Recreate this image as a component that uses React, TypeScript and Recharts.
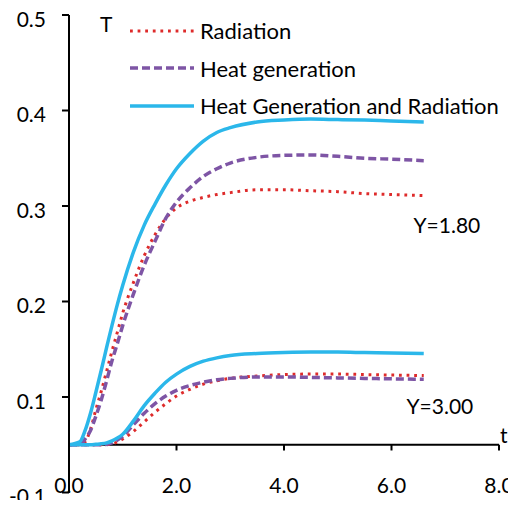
import { LineChart, Line, XAxis, YAxis, ReferenceLine, ReferenceDot, Legend } from "recharts";

// time samples (t) shared by all curves
const tValues = [0, 0.2, 0.3, 0.4, 0.5, 0.6, 0.7, 0.8, 0.9, 1.0, 1.2, 1.4, 1.6, 1.8, 2.0, 2.25, 2.5, 2.75, 3.0, 3.5, 4.0, 4.5, 5.0, 5.5, 6.0, 6.6];

// Y = 1.80
const radHigh = [0.05, 0.05, 0.053, 0.066, 0.087, 0.106, 0.127, 0.148, 0.168, 0.188, 0.22, 0.248, 0.27, 0.287, 0.298, 0.305, 0.309, 0.312, 0.314, 0.317, 0.317, 0.316, 0.315, 0.313, 0.312, 0.311];
const heatHigh = [0.05, 0.05, 0.056, 0.065, 0.08, 0.097, 0.117, 0.138, 0.156, 0.175, 0.208, 0.238, 0.263, 0.287, 0.304, 0.319, 0.331, 0.339, 0.345, 0.351, 0.353, 0.3535, 0.352, 0.35, 0.349, 0.3475];
const bothHigh = [0.05, 0.053, 0.065, 0.083, 0.105, 0.128, 0.152, 0.175, 0.197, 0.217, 0.252, 0.28, 0.302, 0.322, 0.339, 0.355, 0.368, 0.377, 0.382, 0.388, 0.39, 0.391, 0.3905, 0.39, 0.389, 0.388];

// Y = 3.00
const radLow = [0.05, 0.05, 0.05, 0.05, 0.05, 0.05, 0.05, 0.051, 0.053, 0.056, 0.064, 0.074, 0.084, 0.093, 0.101, 0.108, 0.1135, 0.117, 0.1195, 0.122, 0.1235, 0.124, 0.124, 0.1235, 0.123, 0.1225];
const heatLow = [0.05, 0.05, 0.05, 0.05, 0.05, 0.05, 0.0505, 0.052, 0.055, 0.059, 0.071, 0.083, 0.093, 0.101, 0.107, 0.112, 0.1155, 0.118, 0.1195, 0.121, 0.121, 0.1205, 0.12, 0.1195, 0.119, 0.1185];
const bothLow = [0.05, 0.05, 0.05, 0.05, 0.0505, 0.051, 0.052, 0.054, 0.057, 0.061, 0.075, 0.091, 0.104, 0.1155, 0.124, 0.132, 0.1375, 0.141, 0.1435, 0.1455, 0.1465, 0.147, 0.147, 0.1465, 0.146, 0.1455];

const xTicks = [0, 2, 4, 6, 8];
const yTicks = [0, 0.1, 0.2, 0.3, 0.4, 0.5];
const baseline = 0.05;

const legendNames = ["Radiation", "Heat generation", "Heat Generation and Radiation"];

const RED = "#DE2B2B";
const PURPLE = "#7E55A5";
const CYAN = "#2BB7EA";
const FONT = "Lato, 'Open Sans', sans-serif";

const STYLES = [
  { color: RED, dash: "2.8 4.8", width: 3 },
  { color: PURPLE, dash: "8 4", width: 3.5 },
  { color: CYAN, dash: undefined, width: 3.5 },
];

const data = tValues.map((t, i) => ({
  t,
  radHigh: radHigh[i],
  heatHigh: heatHigh[i],
  bothHigh: bothHigh[i],
  radLow: radLow[i],
  heatLow: heatLow[i],
  bothLow: bothLow[i],
}));

// annotations: [text, t, T]
const notes: [string, number, number][] = [
  ["T", 0.69, 0.49],
  ["t", 8.09, 0.06],
  ["Y=1.80", 7.03, 0.28],
  ["Y=3.00", 6.9, 0.0895],
];

// eslint-disable-next-line @typescript-eslint/no-explicit-any
function XTick({ x, y, payload }: any) {
  return (
    <text x={x} y={y} dy={-8} textAnchor="middle" dominantBaseline="central" fontSize={21} fill="#000">
      {Number(payload.value).toFixed(1)}
    </text>
  );
}

// eslint-disable-next-line @typescript-eslint/no-explicit-any
function YTick({ x, y, payload }: any) {
  const v = Number(payload.value);
  return (
    <text x={x} y={y} dy={3} textAnchor="end" dominantBaseline="central" fontSize={21} fill="#000">
      {v === 0 ? "-0.1" : v.toFixed(1)}
    </text>
  );
}

function CustomLegend() {
  return (
    <div style={{ fontFamily: FONT }}>
      {legendNames.map((name, i) => (
        <div key={name} style={{ display: "flex", alignItems: "center", height: 37.5 }}>
          <svg width={64} height={12}>
            <line
              x1={0}
              x2={64}
              y1={6}
              y2={6}
              stroke={STYLES[i].color}
              strokeWidth={STYLES[i].width}
              strokeDasharray={STYLES[i].dash}
            />
          </svg>
          <span style={{ marginLeft: 6, fontSize: 22, color: "#000", whiteSpace: "nowrap" }}>{name}</span>
        </div>
      ))}
    </div>
  );
}

export default function App() {
  const lines: [string, number][] = [
    ["radHigh", 0],
    ["heatHigh", 1],
    ["bothHigh", 2],
    ["radLow", 0],
    ["heatLow", 1],
    ["bothLow", 2],
  ];
  return (
    <div style={{ fontFamily: FONT, width: 516, height: 508, margin: -8 }}>
      <LineChart width={516} height={508} data={data} margin={{ top: 15, right: 17, left: 8, bottom: 8 }}>
        <XAxis
          dataKey="t"
          type="number"
          domain={[0, 8]}
          ticks={xTicks}
          height={7.5}
          axisLine={false}
          tickLine={false}
          tickSize={0}
          tickMargin={0}
          tick={<XTick />}
          interval={0}
        />
        <YAxis
          type="number"
          domain={[0, 0.5]}
          ticks={yTicks}
          width={61}
          interval={0}
          axisLine={{ stroke: "#000", strokeWidth: 2 }}
          tickLine={{ stroke: "#000", strokeWidth: 2 }}
          tickSize={7}
          tickMargin={16}
          tick={<YTick />}
        />
        <ReferenceLine y={baseline} stroke="#000" strokeWidth={2} />
        {xTicks.map((t) => (
          <ReferenceLine
            key={t}
            segment={[
              { x: t, y: baseline },
              { x: t, y: baseline - 0.006 },
            ]}
            stroke="#000"
            strokeWidth={2}
          />
        ))}
        {lines.map(([key, s]) => (
          <Line
            key={key}
            dataKey={key}
            type="monotone"
            stroke={STYLES[s].color}
            strokeWidth={STYLES[s].width}
            strokeDasharray={STYLES[s].dash}
            dot={false}
            activeDot={false}
            isAnimationActive={false}
          />
        ))}
        {notes.map(([text, t, v]) => (
          <ReferenceDot
            key={text}
            x={t}
            y={v}
            r={0}
            ifOverflow="visible"
            stroke="none"
            fill="none"
            label={{ value: text, position: "center", fontSize: 21, fill: "#000" }}
          />
        ))}
        <Legend
          layout="vertical"
          align="center"
          verticalAlign="middle"
          content={<CustomLegend />}
          wrapperStyle={{ left: 130, top: 12, width: 385 }}
        />
      </LineChart>
    </div>
  );
}
